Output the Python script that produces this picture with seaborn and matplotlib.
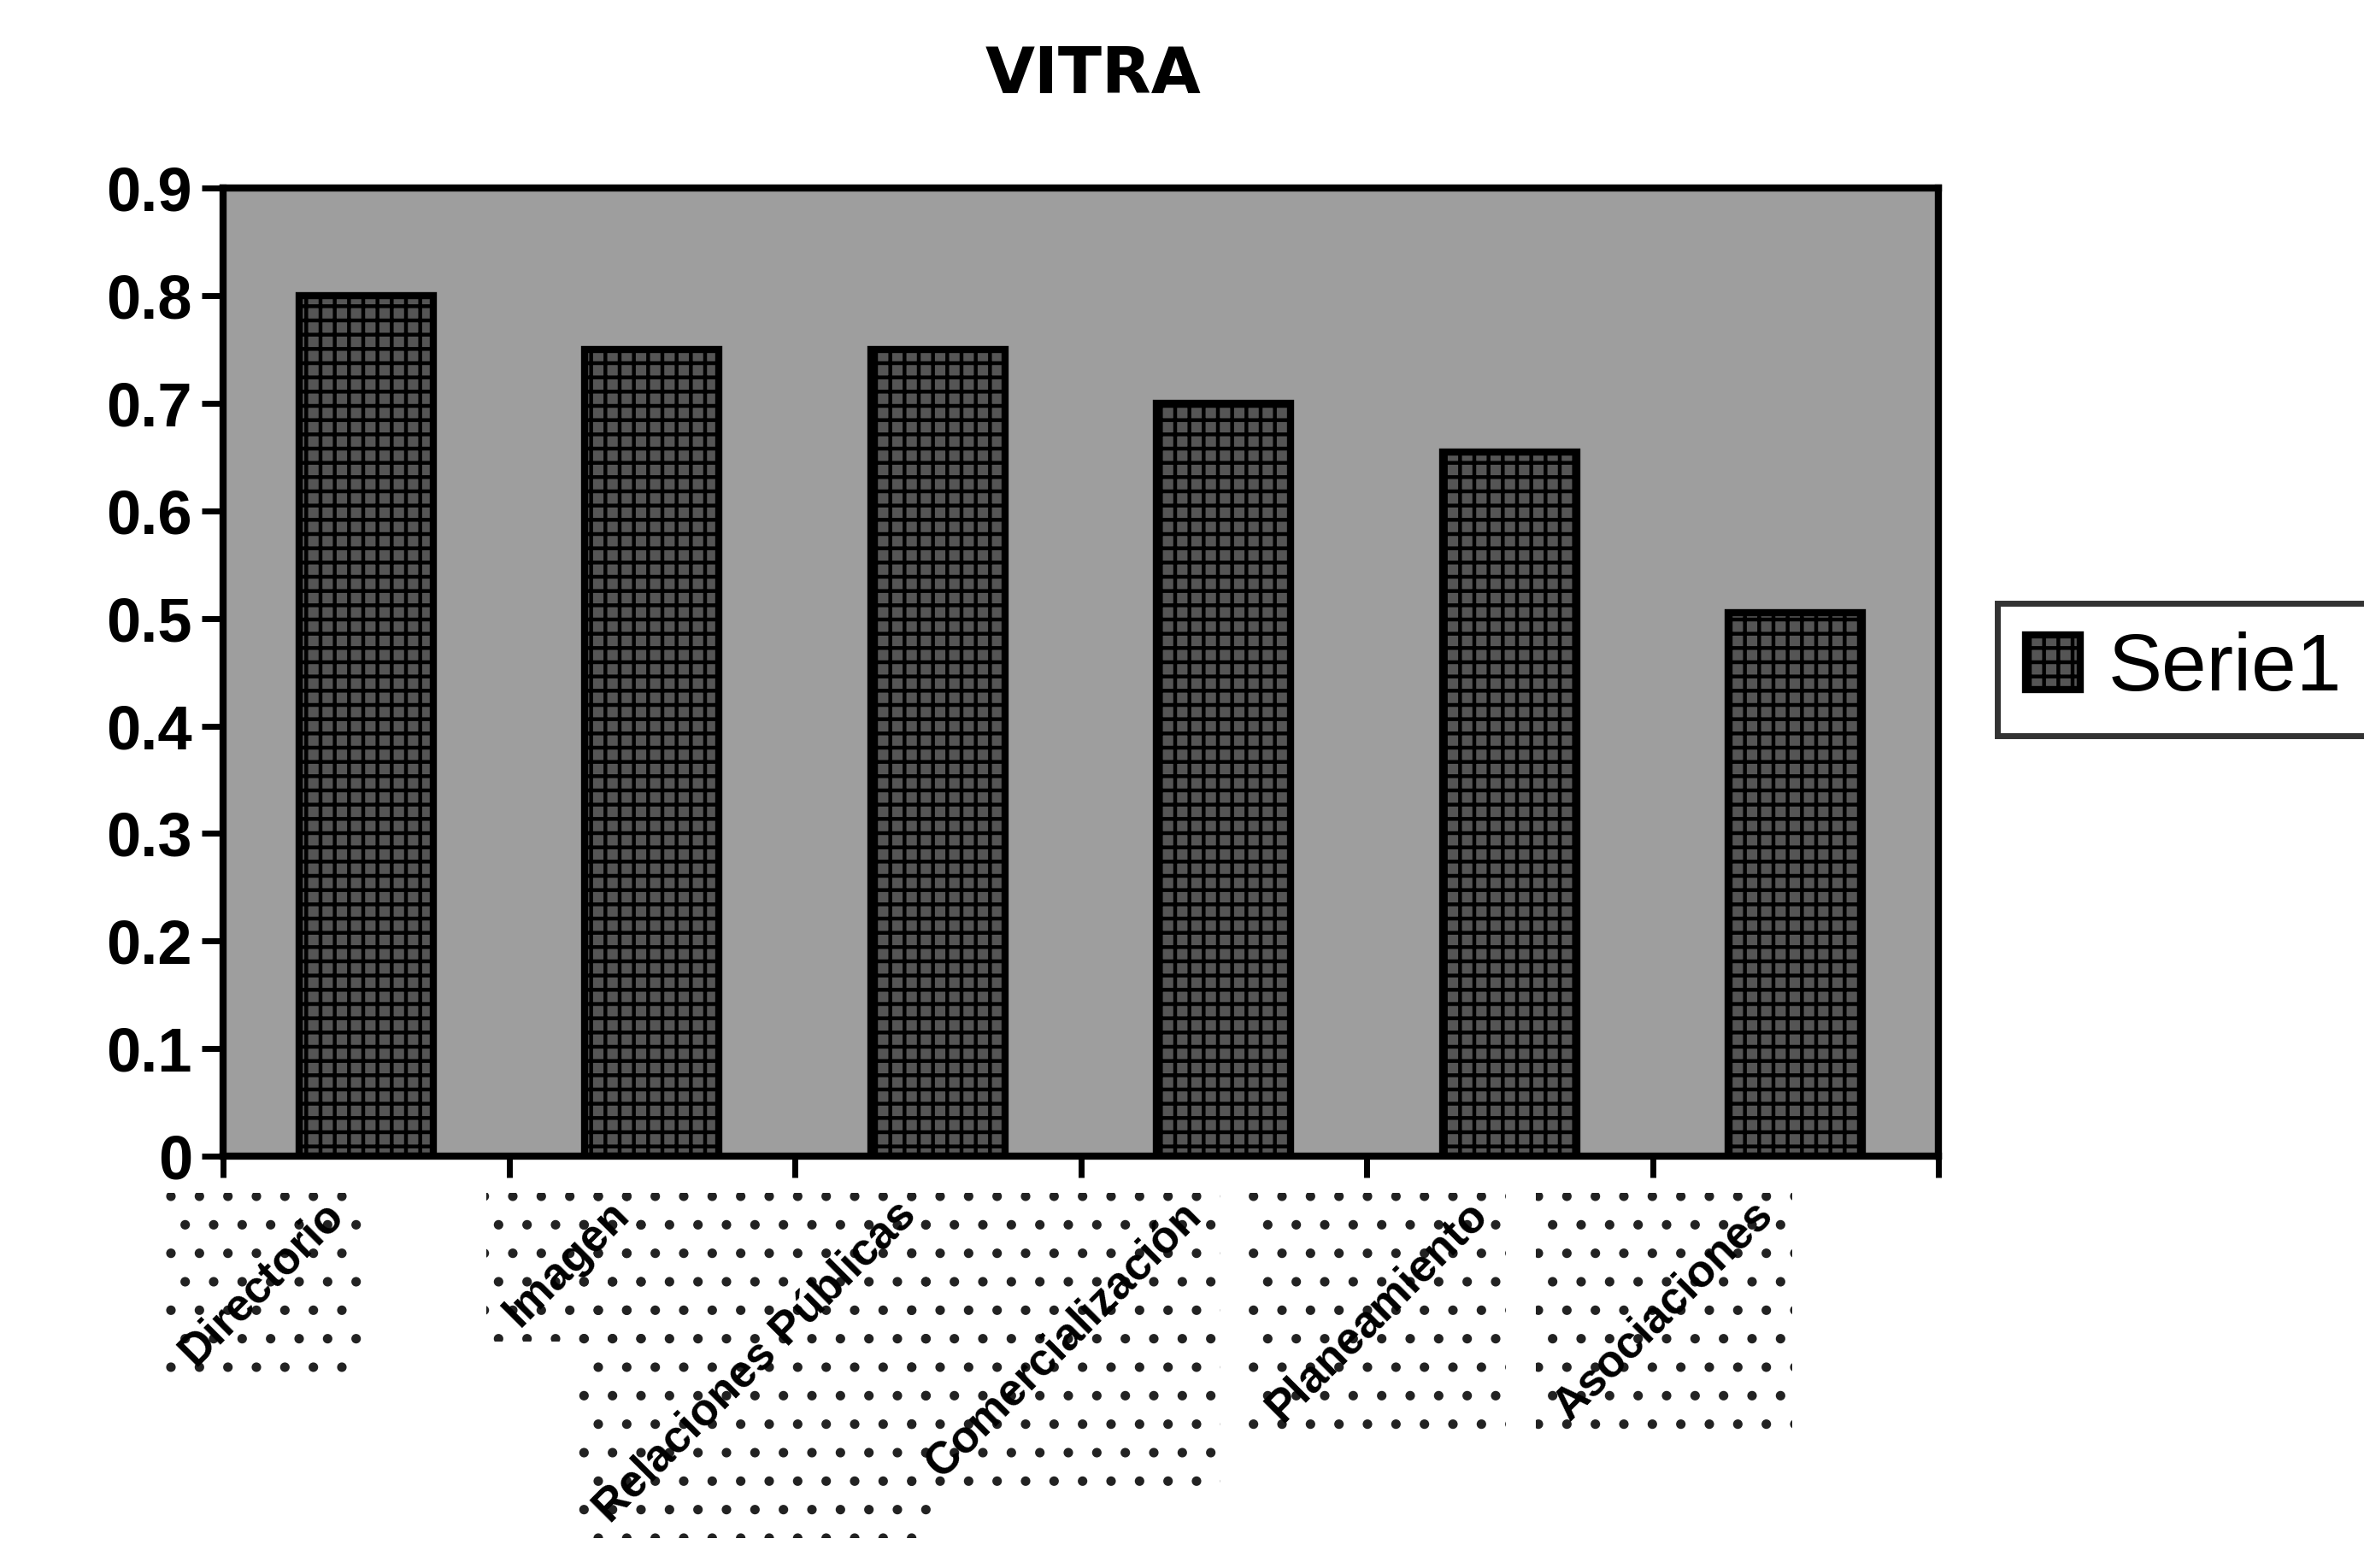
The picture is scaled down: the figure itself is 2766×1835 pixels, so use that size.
import matplotlib
matplotlib.use("Agg")
import matplotlib.pyplot as plt
from matplotlib.patches import Rectangle
from matplotlib.transforms import ScaledTranslation
import seaborn as sns
import pandas as pd

categories = ["Directorio", "Imagen", "Relaciones Públicas", "Comercialización", "Planeamiento", "Asociaciones"]
values = [0.80, 0.75, 0.75, 0.70, 0.655, 0.505]
series_name = "Serie1"
title = "VITRA"

sns.set_theme(style="white")
plt.rcParams['font.family'] = ['Liberation Sans', 'DejaVu Sans']
plt.rcParams['hatch.linewidth'] = 1.6

df = pd.DataFrame({"cat": categories, "val": values})

fig = plt.figure(figsize=(13.83, 9.175), dpi=200)
ax = fig.add_axes([0.0944, 0.2627, 0.7256, 0.6173])
ax.set_facecolor("#9e9e9e")

sns.barplot(data=df, x="cat", y="val", color="#555555", width=0.47, ax=ax,
            edgecolor="black", linewidth=3, saturation=1, label=series_name)
for p in ax.patches:
    p.set_hatch("++")

ax.set_ylim(0, 0.9)
ax.set_xlim(-0.5, len(categories) - 0.5)
ax.set_yticks([i / 10 for i in range(10)])
ax.set_yticklabels(["0" if i == 0 else f"0.{i}" for i in range(10)], fontsize=26,
                   fontweight="bold", color="black")
ax.set_xticks(range(len(categories)))
ax.set_xticklabels(categories, rotation=45, ha="right", va="center", rotation_mode="anchor",
                   fontsize=19, fontweight="bold", color="black")
ax.tick_params(axis="x", length=0, pad=22)
ax.set_xticks([i - 0.5 for i in range(len(categories) + 1)], minor=True)
ax.tick_params(axis="x", which="minor", length=9, width=2.5, direction="out", bottom=True, color="black")
ax.tick_params(axis="y", length=9, width=2.5, direction="out", left=True, pad=4, color="black")
ax.set_xlabel("")
ax.set_ylabel("")
for s in ax.spines.values():
    s.set_color("black")
    s.set_linewidth(3)

shift = ScaledTranslation(-0.17, 0, fig.dpi_scale_trans)
for lab in ax.get_xticklabels():
    lab.set_transform(lab.get_transform() + shift)

fig.text(0.4624, 0.952, title, ha="center", va="center", fontsize=27,
         fontweight="bold", family="DejaVu Sans", color="black")

handles, labels = ax.get_legend_handles_labels()
if ax.get_legend() is not None:
    ax.get_legend().remove()
leg = fig.legend(handles[:1], [series_name], loc="center left", bbox_to_anchor=(0.845, 0.573),
                 fontsize=34, frameon=True, fancybox=False, edgecolor="black",
                 handlelength=0.67, handleheight=0.67, handletextpad=0.35,
                 borderpad=0.35, borderaxespad=0)
leg.get_frame().set_linewidth(2.5)
for t in leg.get_texts():
    t.set_color("black")

# dotted backgrounds behind the category labels
fig.canvas.draw()
inv = fig.transFigure.inverted()
padx, pady = 12 / 2766, 8 / 1835
for lab in ax.get_xticklabels():
    bb = lab.get_window_extent().transformed(inv)
    fig.patches.append(Rectangle((bb.x0 - padx, bb.y0 - pady), bb.width + 2 * padx, bb.height + pady,
                                 transform=fig.transFigure, fill=False, hatch=".",
                                 edgecolor="#222222", linewidth=0, zorder=-1))

fig.savefig("out.png", dpi=200, facecolor="white")
